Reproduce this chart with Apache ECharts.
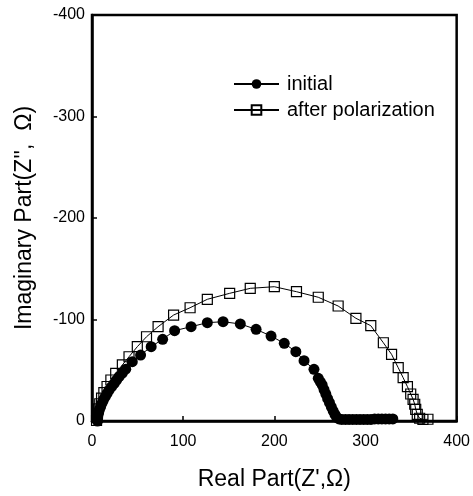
<!DOCTYPE html>
<html>
<head>
<meta charset="utf-8">
<script src="https://cdn.jsdelivr.net/npm/echarts@6/dist/echarts.min.js"></script>
<style>
    html, body {margin: 0; padding: 0; background: #fff;}
    #chart {width: 473px; height: 496px;}
</style>
</head>
<body>
<div id="chart"></div>
<script>
    // Z' (ohm) and Z'' (ohm)
    const initialRe = [6, 6, 6.2, 7, 8, 9.3, 10.9, 12.5, 14.5, 16.5, 18.8, 21.5, 24.3, 27, 29.7, 33.3, 37, 44.2, 53.3,
        64.9, 77.5, 90.6, 108.7, 126.5, 143.8, 162.7, 180, 196.4, 210.9, 223.6, 232.6, 243.5, 248.2, 250.5, 252.5,
        254.5, 256.5, 258.5, 260.5, 262.5, 264.5, 266.5, 268.5, 271, 274, 278, 282, 286, 290, 294, 298, 302, 306,
        310, 314, 318, 322, 326, 330];
    const initialIm = [0, -2, -4.2, -7.5, -10.8, -14, -17.4, -20.7, -24, -27.2, -30.5, -33.8, -37, -40.3, -43.7, -47.3,
        -51, -58.4, -65, -73.2, -80.5, -89, -92.9, -96.9, -97.8, -95.6, -90.3, -83.7, -76.5, -68.3, -59.4, -50.9,
        -42, -38.5, -35.5, -31, -26.5, -22, -18, -14, -10, -6.5, -3.5, -2, -1.5, -1.5, -1.5, -1.5, -1.5, -1.5,
        -1.5, -1.5, -1.5, -2, -2, -2, -2, -2, -2];
    const afterRe = [5, 5.5, 6, 7, 8.5, 10.5, 13, 16.5, 20.7, 26, 33.3, 40.6, 49.7, 59.8, 72.5, 89.5, 107.6, 126.5,
        151, 173.6, 200, 224.3, 248.2, 270, 289.5, 305.8, 319.6, 328.6, 335.9, 341.3, 346, 349.6, 352.2, 354, 355.1,
        356.8, 359.4, 363, 368.5];
    const afterIm = [-0.5, -3.5, -7.5, -12, -17, -22.5, -28, -34, -40.4, -47, -55.2, -63.3, -73.2, -83, -92.9, -104.4,
        -111.6, -119.9, -125.8, -130.7, -132.3, -127.4, -121.9, -113.3, -101.2, -93.9, -77.1, -65.7, -52.5, -42.7,
        -33.8, -26.6, -21.4, -16.5, -11.5, -6.6, -2.7, -1.5, -1.7];
    const seriesNames = ['initial', 'after polarization'];
    const xTicks = {min: 0, max: 400, step: 100};
    const yTicks = {min: -400, max: 0, step: 100};

    const pairs = function (xs, ys) {
        return xs.map(function (x, i) {
            return [x, ys[i]];
        });
    };

    const font = 'Liberation Sans, Arial, sans-serif';
    const chart = echarts.init(document.getElementById('chart'), null, {renderer: 'canvas'});
    chart.setOption({
        animation: false
        , backgroundColor: '#fff'
        , grid: {
            left: 92
            , right: 14
            , top: 15
            , bottom: 75
            , show: true
            , borderColor: '#000'
            , borderWidth: 2.5
        }
        , legend: {
            orient: 'vertical'
            , left: 228
            , top: 69
            , itemWidth: 45
            , itemHeight: 12
            , itemGap: 6
            , textStyle: {fontFamily: font, fontSize: 20, color: '#000', padding: [0, 0, 0, 3]}
            , data: seriesNames
        }
        , xAxis: {
            type: 'value'
            , min: xTicks.min
            , max: xTicks.max
            , interval: xTicks.step
            , name: "Real Part(Z',\u03a9)"
            , nameLocation: 'middle'
            , nameGap: 47
            , nameTextStyle: {fontFamily: font, fontSize: 23, color: '#000'}
            , axisLine: {lineStyle: {color: '#000', width: 2.5}}
            , axisTick: {inside: true, length: 5, lineStyle: {color: '#000', width: 1.5}}
            , axisLabel: {fontFamily: font, fontSize: 16, color: '#000', margin: 13}
            , splitLine: {show: false}
        }
        , yAxis: {
            type: 'value'
            , inverse: true
            , min: yTicks.min
            , max: yTicks.max
            , interval: yTicks.step
            , name: "Imaginary Part(Z'',  \u03a9)"
            , nameLocation: 'middle'
            , nameGap: 56
            , nameTextStyle: {fontFamily: font, fontSize: 23, color: '#000'}
            , axisLine: {lineStyle: {color: '#000', width: 2.5}}
            , axisTick: {inside: true, length: 5, lineStyle: {color: '#000', width: 1.5}}
            , axisLabel: {fontFamily: font, fontSize: 16, color: '#000', margin: 7}
            , splitLine: {show: false}
        }
        , series: [
            {
                name: seriesNames[0]
                , type: 'line'
                , data: pairs(initialRe, initialIm)
                , symbol: 'circle'
                , symbolSize: 11
                , showAllSymbol: true
                , itemStyle: {color: '#000'}
                , lineStyle: {color: '#000', width: 1}
            }
            , {
                name: seriesNames[1]
                , type: 'line'
                , data: pairs(afterRe, afterIm)
                , symbol: 'rect'
                , symbolSize: 10
                , showAllSymbol: true
                , itemStyle: {color: 'rgba(255,255,255,0)', borderColor: '#000', borderWidth: 1.2}
                , lineStyle: {color: '#000', width: 1}
            }
        ]
    });
</script>
</body>
</html>
